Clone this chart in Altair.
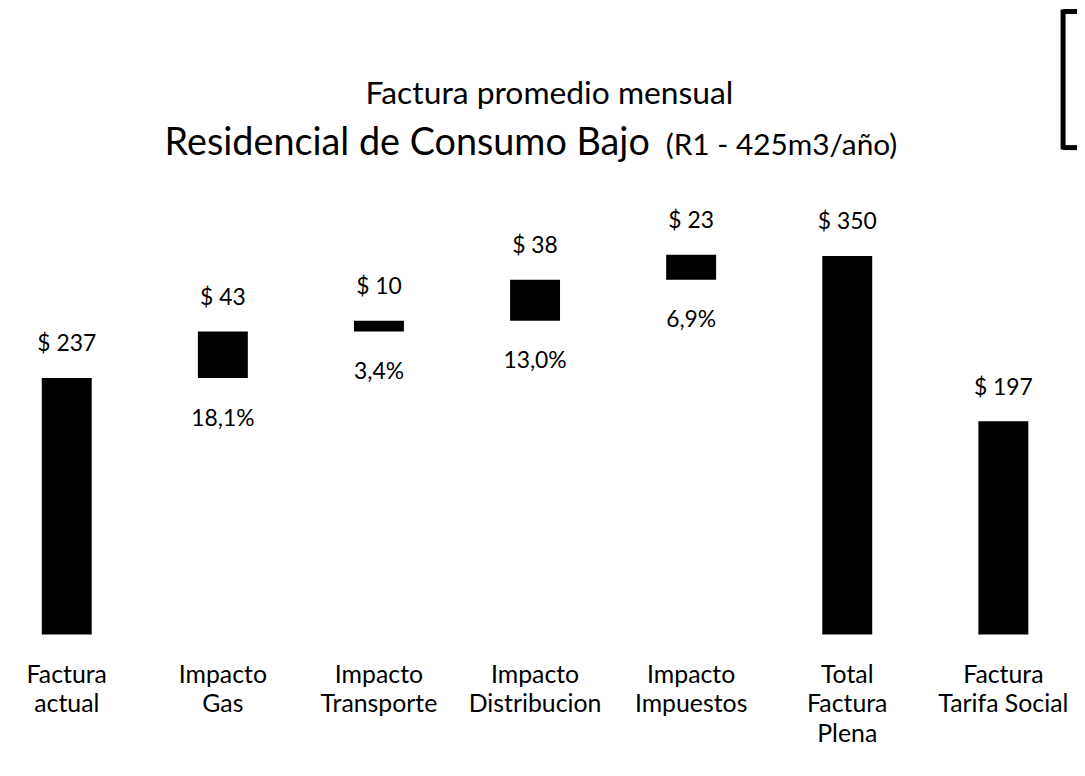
import altair as alt
import pandas as pd

# ---- data ----
categories = ["Factura\nactual", "Impacto\nGas", "Impacto\nTransporte", "Impacto\nDistribucion",
              "Impacto\nImpuestos", "Total\nFactura\nPlena", "Factura\nTarifa Social"]
values = [237, 43, 10, 38, 23, 350, 197]
is_total = [True, False, False, False, False, True, True]
value_labels = ["$ 237", "$ 43", "$ 10", "$ 38", "$ 23", "$ 350", "$ 197"]
pct_labels = ["", "18,1%", "3,4%", "13,0%", "6,9%", "", ""]

title_line1 = "Factura promedio mensual"
title_line2_main = "Residencial de Consumo Bajo"
title_line2_small = "(R1 - 425m3/año)"

# ---- waterfall table ----
rows = []
running = 0
for c, v, t, lab, pct in zip(categories, values, is_total, value_labels, pct_labels):
    if t:
        start, end = 0, v
        running = v
    else:
        start, end = running, running + v
        running = end
    rows.append({"cat": c, "start": start, "end": end, "label": lab, "pct": pct})
df = pd.DataFrame(rows)

FONT = "Lato"

x_enc = alt.X(
    "cat:N", sort=categories, title=None,
    scale=alt.Scale(paddingInner=0.68, paddingOuter=0),
    axis=alt.Axis(labelExpr="split(datum.label, '\\n')", labelAngle=0,
                  labelFont=FONT, labelFontSize=25, labelColor="#000",
                  labelBaseline="top", labelPadding=28, labelLineHeight=30,
                  domain=False, ticks=False, grid=False, labelLimit=300),
)
y_scale = alt.Scale(domain=[0, 350], nice=False, zero=True)

base = alt.Chart(df)

bars = base.mark_bar(color="#000000").encode(
    x=x_enc,
    y=alt.Y("start:Q", scale=y_scale, axis=None),
    y2="end:Q",
)

top_labels = base.mark_text(font=FONT, fontSize=23, color="#000", baseline="alphabetic", dy=-27).encode(
    x=alt.X("cat:N", sort=categories),
    y=alt.Y("end:Q", scale=y_scale),
    text="label:N",
)

pct_text = base.transform_filter("datum.pct != ''").mark_text(
    font=FONT, fontSize=23, color="#000", baseline="top", dy=30
).encode(
    x=alt.X("cat:N", sort=categories),
    y=alt.Y("start:Q", scale=y_scale),
    text="pct:N",
)

t1 = alt.Chart(pd.DataFrame({"t": [title_line1]})).mark_text(
    font=FONT, fontSize=32, color="#000", align="center", baseline="alphabetic"
).encode(x=alt.value(511), y=alt.value(-153), text="t:N")

t2 = alt.Chart(pd.DataFrame({"t": [title_line2_main]})).mark_text(
    font=FONT, fontSize=38, color="#000", align="right", baseline="alphabetic"
).encode(x=alt.value(612), y=alt.value(-102), text="t:N")

t3 = alt.Chart(pd.DataFrame({"t": [title_line2_small]})).mark_text(
    font=FONT, fontSize=30, color="#000", align="left", baseline="alphabetic"
).encode(x=alt.value(628), y=alt.value(-102), text="t:N")

# bracket box at top right
box_top = alt.Chart(pd.DataFrame({"a": [0]})).mark_rule(color="#000", strokeWidth=5).encode(
    x=alt.value(1028), x2=alt.value(1050), y=alt.value(-246))
box_left = alt.Chart(pd.DataFrame({"a": [0]})).mark_rule(color="#000", strokeWidth=5).encode(
    x=alt.value(1028), y=alt.value(-248), y2=alt.value(-107))
box_bottom = alt.Chart(pd.DataFrame({"a": [0]})).mark_rule(color="#000", strokeWidth=5).encode(
    x=alt.value(1028), x2=alt.value(1050), y=alt.value(-109))

chart = alt.layer(bars, top_labels, pct_text, t1, t2, t3, box_top, box_left, box_bottom).properties(
    width=993, height=381,
    autosize=alt.AutoSizeParams(type="none"),
    padding={"left": 34, "top": 247, "right": 49, "bottom": 139},
    background="white",
).configure_view(stroke=None)

chart.save("out.html", embed_options={"renderer": "svg", "actions": False})
